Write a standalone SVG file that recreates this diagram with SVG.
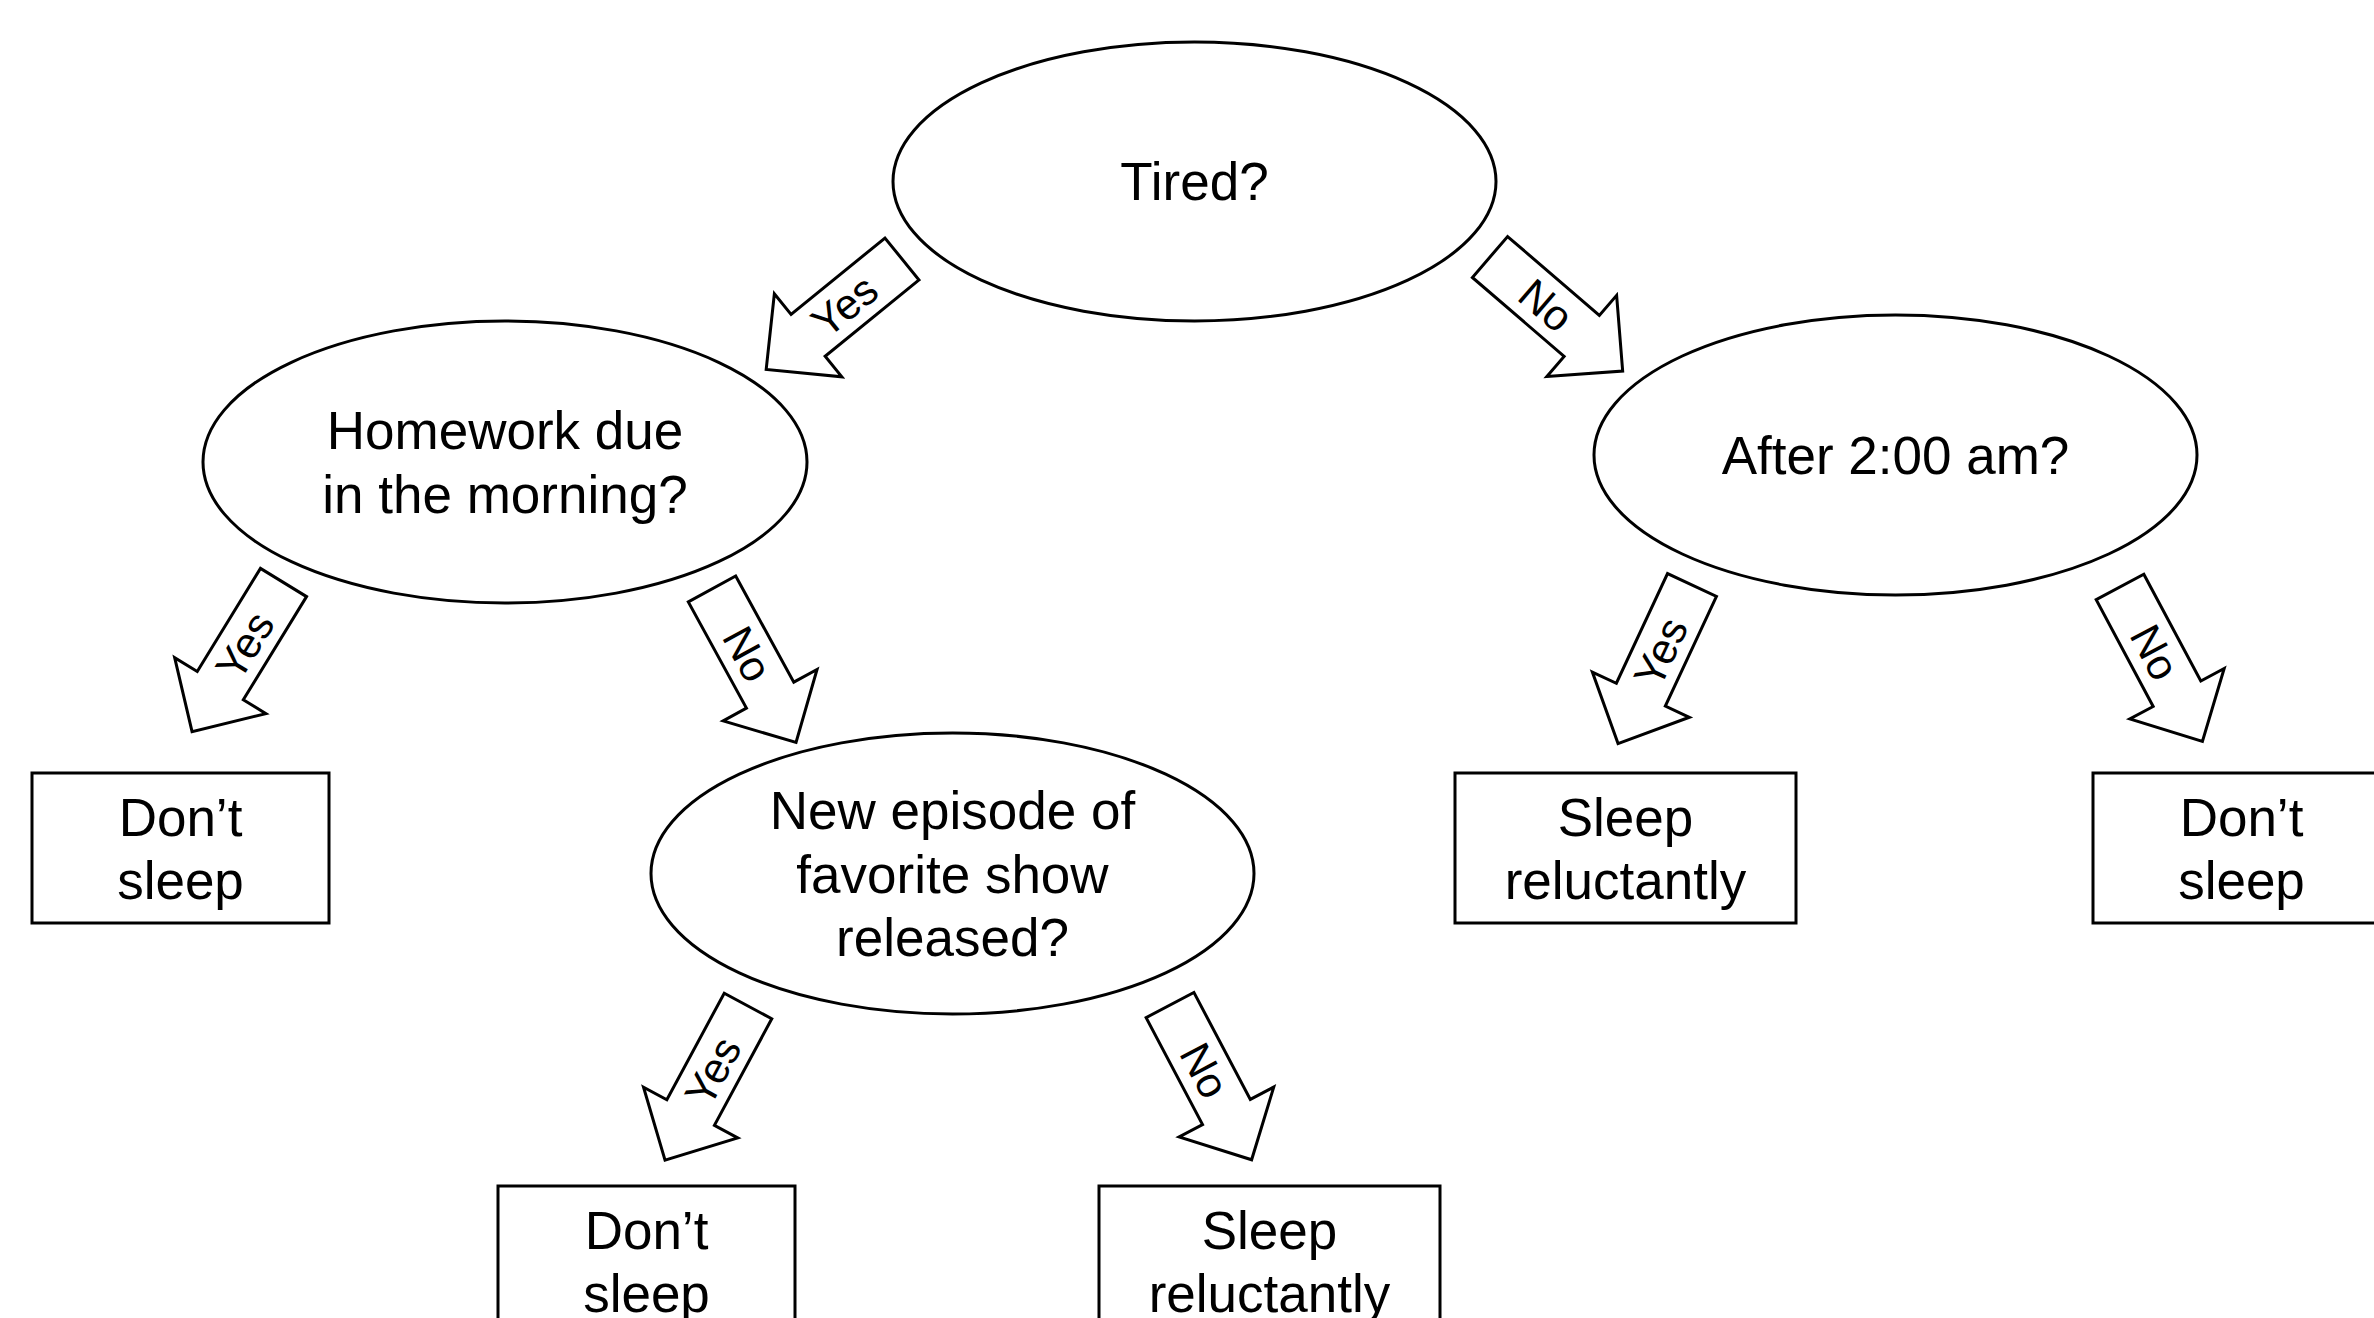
<svg xmlns="http://www.w3.org/2000/svg" width="2374" height="1318" viewBox="0 0 2374 1318">
<style>
.shape{fill:#fff;stroke:#000;stroke-width:3}
.t{font-family:"Liberation Sans",Arial,sans-serif;font-size:53px;fill:#000;text-anchor:middle}
.lbl{font-family:"Liberation Sans",Arial,sans-serif;font-size:43px;fill:#000;text-anchor:middle;dominant-baseline:central}
</style>
<defs>
<polygon id="arr" class="shape" points="0,-27 121,-27 121,-53.5 175,0 121,53.5 121,27 0,27" stroke-linejoin="miter"/>
</defs>
<rect width="2374" height="1318" fill="#fff"/>
<g id="connectors">
<g transform="translate(902,259) rotate(140.9)"><use href="#arr"/><text class="lbl" transform="translate(74,0) rotate(180)">Yes</text></g>
<g transform="translate(1490,257) rotate(40.7)"><use href="#arr"/><text class="lbl" x="74" y="0">No</text></g>
<g transform="translate(283.5,582.5) rotate(121.5)"><use href="#arr"/><text class="lbl" transform="translate(74,0) rotate(180)">Yes</text></g>
<g transform="translate(712,589) rotate(61.3)"><use href="#arr"/><text class="lbl" x="74" y="0">No</text></g>
<g transform="translate(1692,585) rotate(115)"><use href="#arr"/><text class="lbl" transform="translate(74,0) rotate(180)">Yes</text></g>
<g transform="translate(2120,587) rotate(61.9)"><use href="#arr"/><text class="lbl" x="74" y="0">No</text></g>
<g transform="translate(748,1006) rotate(118.3)"><use href="#arr"/><text class="lbl" transform="translate(74,0) rotate(180)">Yes</text></g>
<g transform="translate(1170,1005) rotate(62.2)"><use href="#arr"/><text class="lbl" x="74" y="0">No</text></g>
</g>
<g id="tired">
<ellipse class="shape" cx="1194.5" cy="181.5" rx="301.5" ry="139.5"/>
<text class="t" x="1194.5" y="200">Tired?</text>
</g>
<g id="homework">
<ellipse class="shape" cx="505" cy="462" rx="302" ry="141"/>
<text class="t" x="505" y="449">Homework due</text>
<text class="t" x="505" y="513">in the morning?</text>
</g>
<g id="after2">
<ellipse class="shape" cx="1895.5" cy="455" rx="301.5" ry="140"/>
<text class="t" x="1895.5" y="474">After 2:00 am?</text>
</g>
<g id="episode">
<ellipse class="shape" cx="952.5" cy="873.5" rx="301.5" ry="140.5"/>
<text class="t" x="952.5" y="829">New episode of</text>
<text class="t" x="952.5" y="893">favorite show</text>
<text class="t" x="952.5" y="956">released?</text>
</g>
<g id="dontsleep1">
<rect class="shape" x="32" y="773" width="297" height="150"/>
<text class="t" x="180.5" y="836">Don’t</text>
<text class="t" x="180.5" y="899">sleep</text>
</g>
<g id="sleeprel1">
<rect class="shape" x="1455" y="773" width="341" height="150"/>
<text class="t" x="1625.5" y="836">Sleep</text>
<text class="t" x="1625.5" y="899">reluctantly</text>
</g>
<g id="dontsleep2">
<rect class="shape" x="2093" y="773" width="297" height="150"/>
<text class="t" x="2241.5" y="836">Don’t</text>
<text class="t" x="2241.5" y="899">sleep</text>
</g>
<g id="dontsleep3">
<rect class="shape" x="498" y="1186" width="297" height="150"/>
<text class="t" x="646.5" y="1249">Don’t</text>
<text class="t" x="646.5" y="1312">sleep</text>
</g>
<g id="sleeprel2">
<rect class="shape" x="1099" y="1186" width="341" height="150"/>
<text class="t" x="1269.5" y="1249">Sleep</text>
<text class="t" x="1269.5" y="1312">reluctantly</text>
</g>
</svg>
